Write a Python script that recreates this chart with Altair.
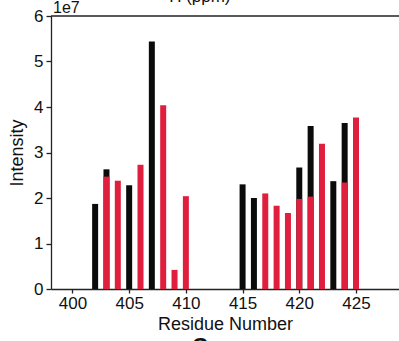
import altair as alt
import pandas as pd

# Data (intensity values)
black_res = [402, 403, 405, 407, 415, 416, 420, 421, 423, 424]
black_val = [1.87e7, 2.63e7, 2.28e7, 5.44e7, 2.30e7, 2.00e7, 2.67e7, 3.58e7, 2.37e7, 3.65e7]
red_res = [403, 404, 406, 408, 409, 410, 417, 418, 419, 420, 421, 422, 424, 425]
red_val = [2.47e7, 2.38e7, 2.73e7, 4.04e7, 0.42e7, 2.04e7, 2.10e7, 1.83e7, 1.67e7, 1.98e7, 2.03e7, 3.19e7, 2.34e7, 3.77e7]
x_ticks = [400, 405, 410, 415, 420, 425]
y_ticks = [0, 1e7, 2e7, 3e7, 4e7, 5e7, 6e7]

FONT = "Liberation Sans"
W, H = 348, 273
XDOM = [398.55, 428.35]
YDOM = [0, 6e7]

black_df = pd.DataFrame({"res": black_res, "val": black_val})
red_df = pd.DataFrame({"res": red_res, "val": red_val})

xs = alt.Scale(domain=XDOM, nice=False, zero=False)
ys = alt.Scale(domain=YDOM, nice=False)

xaxis = alt.Axis(values=x_ticks, title="Residue Number", format="d", grid=False,
                 tickSize=4, labelPadding=2, titlePadding=4)
yaxis = alt.Axis(values=y_ticks, title="Intensity", grid=False, tickSize=5,
                 labelPadding=3, titlePadding=7,
                 labelExpr="format(datum.value/1e7, 'd')")

black = alt.Chart(black_df).mark_bar(size=6, color="#0b0b0b").encode(
    x=alt.X("res:Q", scale=xs, axis=xaxis),
    y=alt.Y("val:Q", scale=ys, axis=yaxis),
)
red = alt.Chart(red_df).mark_bar(size=6, color="#df1f3d").encode(
    x=alt.X("res:Q", scale=xs),
    y=alt.Y("val:Q", scale=ys),
)

top_line = alt.Chart(pd.DataFrame({"a": [0]})).mark_rule(color="#222", strokeWidth=1.3).encode(
    x=alt.value(0), x2=alt.value(W), y=alt.value(0)
)
exp_text = alt.Chart(pd.DataFrame({"t": ["1e7"]})).mark_text(
    align="left", baseline="alphabetic", font=FONT, fontSize=16, color="#111"
).encode(x=alt.value(2), y=alt.value(-3), text="t:N")
top_title = alt.Chart(pd.DataFrame({"t": ["¹H (ppm)"]})).mark_text(
    align="center", baseline="alphabetic", font=FONT, fontSize=17, color="#111"
).encode(x=alt.value(146), y=alt.value(-14), text="t:N")
panel_c = alt.Chart(pd.DataFrame({"t": ["C"]})).mark_text(
    align="center", baseline="alphabetic", font=FONT, fontSize=22, fontWeight="bold", color="#111"
).encode(x=alt.value(149), y=alt.value(337), text="t:N")

chart = alt.layer(black, red, top_line, exp_text, top_title, panel_c).properties(
    width=W, height=H,
    autosize=alt.AutoSizeParams(type="none"),
    padding={"left": 51, "top": 16, "right": 0, "bottom": 52},
).configure_view(stroke=None).configure_axis(
    labelFont=FONT, titleFont=FONT, labelFontSize=17, titleFontSize=18,
    titleFontWeight="normal", labelColor="#111", titleColor="#111",
    domainColor="#222", tickColor="#222", domainWidth=1.3, tickWidth=1.3,
)

chart.save("out.html", embed_options={"renderer": "svg", "actions": False})
